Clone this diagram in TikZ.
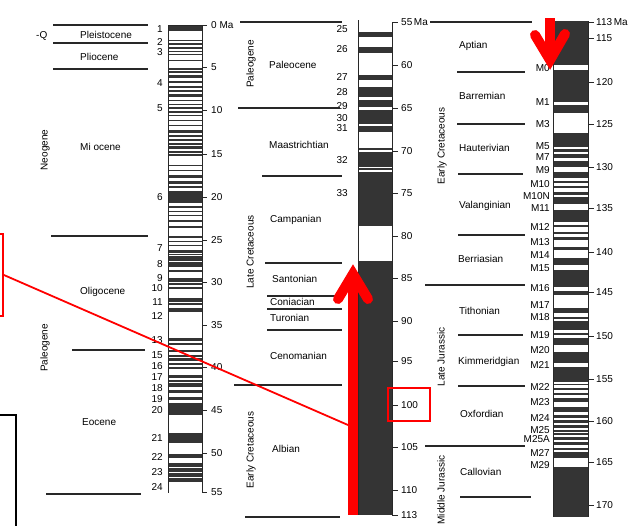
\documentclass[tikz,border=0pt]{standalone}
\usepackage{fontspec}
\setmainfont{Liberation Sans}
\definecolor{barblack}{RGB}{52,52,52}
\definecolor{linegray}{RGB}{40,40,40}
\begin{document}
\begin{tikzpicture}[x=1pt,y=-1pt,
  every node/.style={inner sep=0pt, text height=7.2pt, text depth=0pt, font=\fontsize{10}{12}\selectfont},
  stageline/.style={line width=1.3pt, draw=linegray},
  tickmark/.style={line width=0.8pt, draw=linegray},
  barframe/.style={draw=linegray, line width=0.9pt},
  lbl/.style={anchor=west},
  chron/.style={anchor=east},
  rot/.style={rotate=90},
  redbox/.style={draw=red, line width=1.8pt, text height=, text depth=},
  redshaft/.style={draw=red, line width=10pt, line cap=butt},
  redhead/.style={draw=red, line width=10pt, line cap=round, line join=miter},
  redline/.style={draw=red, line width=1.8pt}]
\useasboundingbox (0,0) rectangle (629,525);

% ================= column 1 (0-55 Ma) =================
\fill[white] (168,25) rectangle (202,493);
\foreach \a/\b in {24.7/31.3,39.7/41.3,43.3/44.7,47.3/48.7,50.7/52,54/55.3,59.7/61.3,68/69.7,71.3/73,75.3/78,81.3/83.3,86.3/88,89.7/92,94/97.3,99.7/101.3,104/105.3,107.3/108.7,111.3/113,114.7/116.3,119.7/121.3,124.7/126.3,129.7/133,135.3/137.3,138.7/140.7,143/144.7,146.3/148.7,150.7/153,154/156.3,164.7/166.3,169.7/171.3,174.7/178,181.3/184,186.3/188,191.3/203,206.3/208,210.7/212.3,214.7/216.3,219.7/222,226.3/228,236.3/238,240.7/242,244.7/246.3,251.3/253,256.3/258,250/251.7,254/255.3,258.3/260.7,262/266.7,270/271.7,278.3/281.7,283.3/285,287.3/289.3,298.3/301.7,303.3/305,308.3/311.7,338.3/340.7,343.3/345,350/351.7,355/356.7,358.3/360.7,363.3/365,366.7/369.3,375/378.3,380/381.7,383.3/386.7,390/393.3,396.7/400,403.3/415,432.7/442.7,454/458.3,463.3/466.7,468.3/471.7,473.3/476.7,478.3/481.7}
  \fill[barblack] (168,\a) rectangle (202,\b);
\draw[barframe] (168,25) -- (168,493) (202,25) -- (202,493) (168,25) -- (202,25);
\foreach \y/\t [count=\i] in {67/5,110/10,154/15,197/20,240/25,282/30,325/35,367/40,410/45,453/50,492/55}{
  \draw[tickmark] (202,\y) -- (207,\y);
  \node[lbl] (ta\i) at (211,\y) {\t};
}
\draw[tickmark] (202,25) -- (207,25);
\node[lbl] (ta0) at (211,25) {0 Ma};
\foreach \t/\y [count=\i] in {1/29,2/42,3/52,4/83,5/108,6/197,7/248,8/264,9/278,10/288,11/302,12/316,13/340,15/355,16/366,17/377,18/388,19/399,20/410,21/438,22/457,23/472,24/487}
  \node[chron] (ca\i) at (163,\y) {\t};
% stage lines col 1
\draw[stageline] (53,25) -- (148,25);
\draw[stageline] (53,43) -- (148,43);
\draw[stageline] (53,69) -- (148,69);
\draw[stageline] (51,236) -- (148,236);
\draw[stageline] (72,350) -- (145,350);
\draw[stageline] (46,494) -- (141,494);
\node[lbl] (pleis) at (80,35) {Pleistocene};
\node[lbl] (plio) at (80,57) {Pliocene};
\node[lbl] (mio) at (80,147) {Mi ocene};
\node[lbl] (oligo) at (80,291) {Oligocene};
\node[lbl] (eoc) at (82,422) {Eocene};
\node[lbl] (quat) at (36,35) {-Q};
\node[rot] (neog) at (44,150) {Neogene};
\node[rot] (paleog1) at (44,348) {Paleogene};

% ================= column 2 (55-113 Ma) =================
\fill[white] (358,22) rectangle (392,515);
\foreach \a/\b in {32/37,47/53,75/80,87/97,100/107,110/124,126/132,148/150,152/167,168/170,172/226,261/515}
  \fill[barblack] (358,\a) rectangle (392,\b);
\draw[barframe] (358,20) -- (358,515) (392,22) -- (392,515);
\foreach \y/\t [count=\i] in {65/60,108/65,151/70,193/75,236/80,278/85,321/90,361/95,405/100,447/105,490/110,515/113}{
  \draw[tickmark] (392,\y) -- (398,\y);
  \node[lbl] (tb\i) at (401,\y) {\t};
}
\draw[tickmark] (392,22) -- (398,22);
\node[lbl] (tb0) at (401,22) {55\,Ma};
\foreach \t/\y [count=\i] in {25/29,26/49,27/77,28/92,29/106,30/118,31/128,32/160,33/193}
  \node[chron] (cb\i) at (348,\y) {\t};
\draw[stageline] (240,22) -- (342,22);
\draw[stageline] (238,108) -- (340,108);
\draw[stageline] (262,176) -- (342,176);
\draw[stageline] (265,263) -- (342,263);
\draw[stageline] (267,296) -- (340,296);
\draw[stageline] (267,309) -- (342,309);
\draw[stageline] (267,330) -- (342,330);
\draw[stageline] (234,385) -- (342,385);
\draw[stageline] (245,517) -- (340,517);
\node[lbl] (paleoc) at (269,65) {Paleocene};
\node[lbl] (maas) at (269,145) {Maastrichtian};
\node[lbl] (camp) at (270,219) {Campanian};
\node[lbl] (sant) at (272,279) {Santonian};
\node[lbl] (coni) at (270,302) {Coniacian};
\node[lbl] (turo) at (270,318) {Turonian};
\node[lbl] (ceno) at (270,356) {Cenomanian};
\node[lbl] (albi) at (272,449) {Albian};
\node[rot] (paleog2) at (250,64) {Paleogene};
\node[rot] (latecret) at (250,252) {Late Cretaceous};
\node[rot] (earlycret1) at (250,450) {Early Cretaceous};

% ================= column 3 (113-170 Ma) =================
\fill[barblack] (553,21) rectangle (588,517);
\foreach \a/\b in {65/70,102/105,113/133,147/149,152/154,158/161,167/172,178/181,183/186,188/192,195/197,204/210,222/225,227/232,233.5/237,240/247,250/258,265/270,287/291,295/308,313/317,318.5/321,330/333,335/338,345/352,363/367,382/383.5,385/388,390/393,395/398,402/407,412/415,418/420,423.3/425,428.3/430,431.7/433.3,435/436.7,440/441.7,445/448.3,450/451.7,458/467}
  \fill[white] (553,\a) rectangle (588,\b);
\draw[barframe] (553,21) -- (553,517) (588,21) -- (588,517);
\foreach \y/\t [count=\i] in {38/115,82/120,124/125,167/130,208/135,252/140,292/145,336/150,379/155,421/160,462/165,505/170}{
  \draw[tickmark] (588,\y) -- (594,\y);
  \node[lbl] (tc\i) at (596,\y) {\t};
}
\draw[tickmark] (588,22) -- (594,22);
\node[lbl] (tc0) at (596,22) {113\,Ma};
\foreach \t/\y [count=\i] in {M0/68,M1/102,M3/124,M5/146,M7/157,M9/170,M10/184,M10N/196,M11/208,M12/227,M13/242,M14/255,M15/268,M16/288,M17/305,M18/317,M19/335,M20/350,M21/365,M22/387,M23/402,M24/418,M25/430,M25A/439,M27/453,M29/465}
  \node[chron] (cc\i) at (550,\y) {\t};
\draw[stageline] (430,22) -- (532,22);
\draw[stageline] (457,72) -- (525,72);
\draw[stageline] (457,124) -- (525,124);
\draw[stageline] (458,174) -- (523,174);
\draw[stageline] (458,235) -- (525,235);
\draw[stageline] (425,285) -- (525,285);
\draw[stageline] (458,335) -- (523,335);
\draw[stageline] (458,386) -- (525,386);
\draw[stageline] (425,446) -- (525,446);
\draw[stageline] (460,497) -- (531,497);
\node[lbl] (apt) at (459,45) {Aptian};
\node[lbl] (barr) at (459,96) {Barremian};
\node[lbl] (haut) at (459,148) {Hauterivian};
\node[lbl] (vala) at (459,205) {Valanginian};
\node[lbl] (berr) at (458,259) {Berriasian};
\node[lbl] (tith) at (459,311) {Tithonian};
\node[lbl] (kimm) at (458,361) {Kimmeridgian};
\node[lbl] (oxf) at (460,414) {Oxfordian};
\node[lbl] (call) at (460,472) {Callovian};
\node[rot] (earlycret2) at (441,146) {Early Cretaceous};
\node[rot] (latejur) at (441,357) {Late Jurassic};
\node[rot] (midjur) at (441,490) {Middle Jurassic};

% ================= overlays =================
\node[draw=black, line width=1.5pt, minimum width=40pt, minimum height=130pt, text height=, text depth=] (blackbox) at (-4,480) {};
\node[redbox, minimum width=20pt, minimum height=82pt] (rbox1) at (-7,275) {};
\node[redbox, minimum width=42pt, minimum height=33pt] (rbox2) at (409,404.5) {};
\coordinate (upbase) at (353,515);
\coordinate (uptip) at (353,274);
\coordinate (lineend) at (348,425);
\draw[redline] (rbox1.east) -- (lineend);
\draw[redshaft] (upbase) -- ([yshift=-4pt]uptip);
\draw[redhead] (338,299) -- (uptip) -- (368,299);
\coordinate (downtop) at (550,18);
\coordinate (downtip) at (550,60);
\draw[redshaft] (downtop) -- ([yshift=4pt]downtip);
\draw[redhead] (535,35) -- (downtip) -- (565,34);
\end{tikzpicture}
\end{document}
